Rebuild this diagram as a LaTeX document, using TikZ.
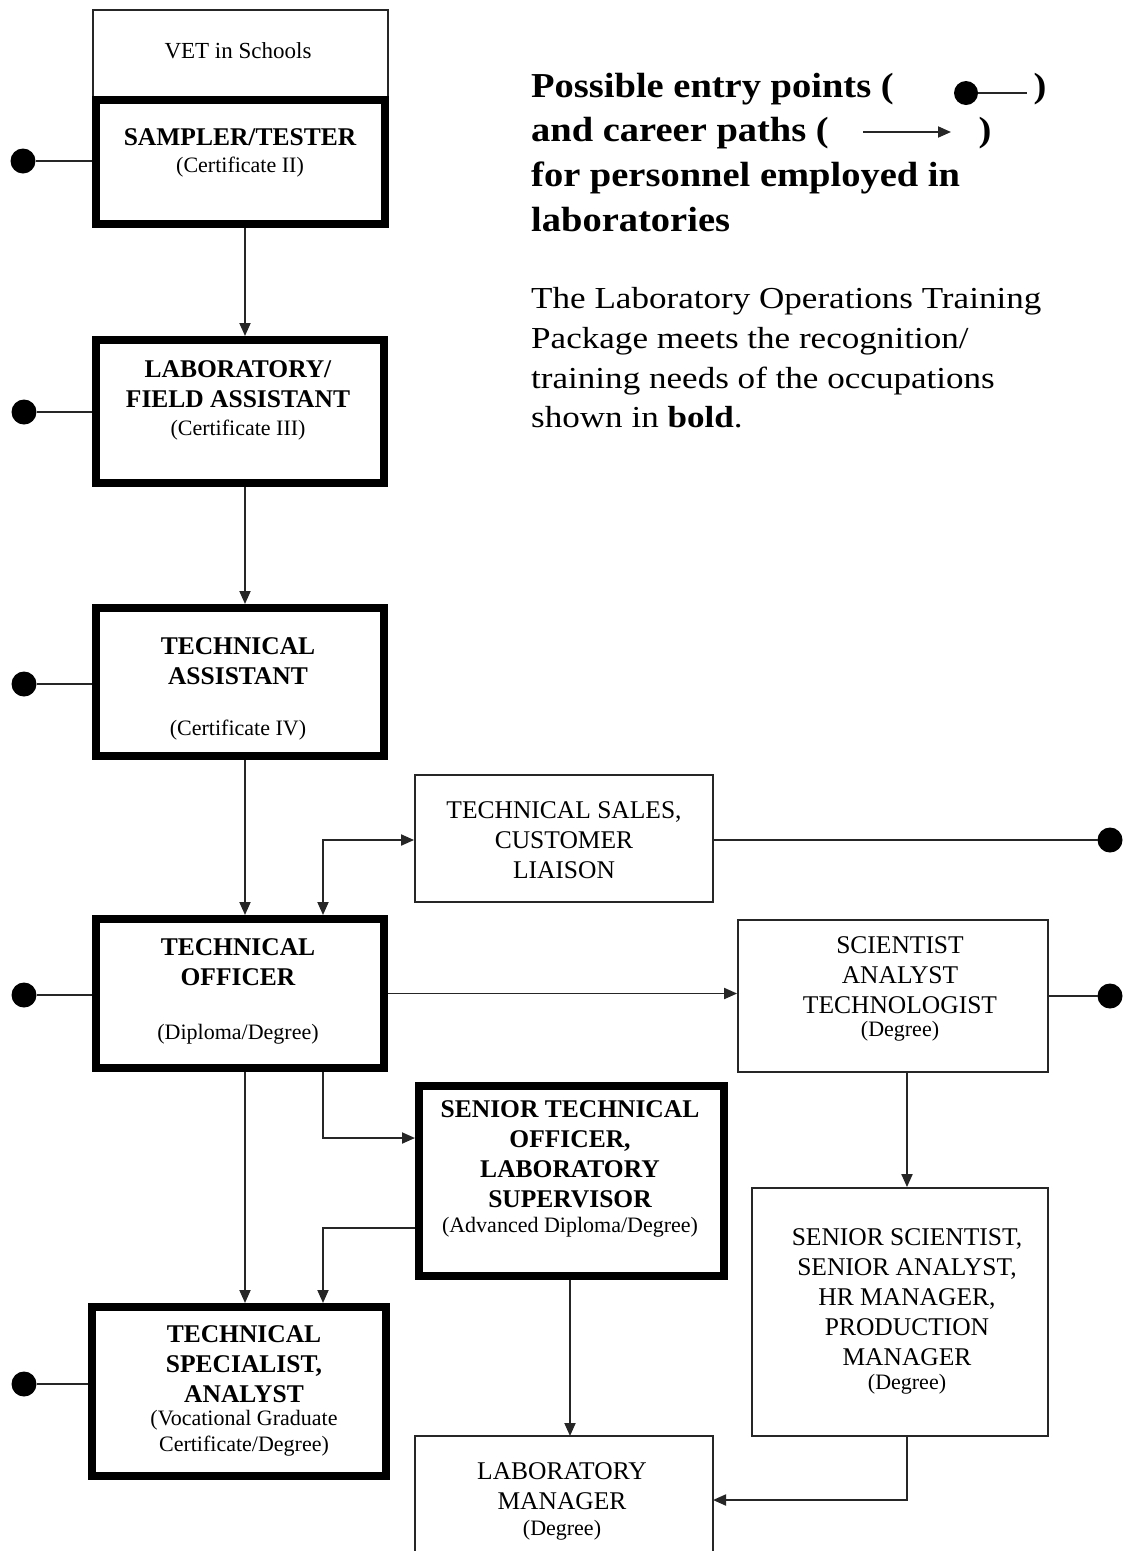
\documentclass[tikz,border=0pt]{standalone}
\usepackage{fontspec}
\setmainfont{Liberation Serif}
\newfontfamily\titlefont[FakeStretch=1.1]{Liberation Serif}
\newfontfamily\parafont[FakeStretch=1.15]{Liberation Serif}
\usetikzlibrary{arrows.meta}
\begin{document}
\begin{tikzpicture}[x=1pt,y=-1pt,
  thinbox/.style={draw=black!85,line width=1.8pt,rectangle,inner sep=0pt},
  thickbox/.style={draw=black,line width=8pt,rectangle,inner sep=0pt},
  entry/.style={circle,fill=black,minimum size=25pt,inner sep=0pt,outer sep=0pt},
  conn/.style={draw=black!85,line width=1.9pt},
  arr/.style={conn,-{Triangle[length=13pt,width=11pt]}},
  darr/.style={conn,{Triangle[length=13pt,width=11pt]}-{Triangle[length=13pt,width=11pt]}},
  head/.style={font=\bfseries\fontsize{25.5}{30}\selectfont,align=center,inner sep=0pt},
  plain/.style={font=\fontsize{25.5}{30}\selectfont,align=center,inner sep=0pt},
  qual/.style={font=\fontsize{22}{26}\selectfont,align=center,inner sep=0pt},
  ttl/.style={font=\titlefont\bfseries\fontsize{35}{44}\selectfont,anchor=base west,inner sep=0pt},
  para/.style={font=\parafont\fontsize{30.5}{40}\selectfont,anchor=base west,inner sep=0pt}]

\path[use as bounding box,fill=white] (0,0) rectangle (1124,1551);

% helper coordinates
\coordinate (c245) at (245,0);
\coordinate (c323) at (323,0);
\coordinate (c570) at (570,0);
\coordinate (c907) at (907,0);
\coordinate (y840) at (0,840);
\coordinate (y1138) at (0,1138);
\coordinate (y1228) at (0,1228);
\coordinate (y1500) at (0,1500);

% boxes
\node[thinbox,minimum width=295pt,minimum height=90pt] (vet) at (240.5,55) {};
\node[thickbox,minimum width=289pt,minimum height=124pt] (sampler) at (240.5,162) {};
\node[thickbox,minimum width=288pt,minimum height=143pt] (lab) at (240,411.5) {};
\node[thickbox,minimum width=288pt,minimum height=148pt] (ta) at (240,682) {};
\node[thinbox,minimum width=298pt,minimum height=127pt] (sales) at (564,838.5) {};
\node[thickbox,minimum width=288pt,minimum height=149pt] (to) at (240,993.5) {};
\node[thinbox,minimum width=310pt,minimum height=152pt] (sci) at (893,996) {};
\node[thickbox,minimum width=305pt,minimum height=190pt] (sto) at (571.5,1181) {};
\node[thickbox,minimum width=294pt,minimum height=169pt] (ts) at (239,1391.5) {};
\node[thinbox,minimum width=296pt,minimum height=248pt] (ss) at (900,1312) {};
\node[rectangle,inner sep=0pt,outer sep=0pt,minimum width=298pt,minimum height=119pt] (lm) at (564,1495.5) {};
\draw[draw=black!85,line width=1.8pt] (lm.south west) -- (lm.north west) -- (lm.north east) -- (lm.south east);

% texts in boxes
\node[font=\fontsize{23}{27}\selectfont,inner sep=0pt] (vetText) at (238,51) {VET in Schools};
\node[head] (samplerHead) at (240,137) {SAMPLER/TESTER};
\node[qual] (samplerQual) at (240,167) {(Certificate II)};
\node[head] (labHead) at (238,384) {LABORATORY/\\FIELD ASSISTANT};
\node[qual] (labQual) at (238,430) {(Certificate III)};
\node[head] (taHead) at (238,661) {TECHNICAL\\ASSISTANT};
\node[qual] (taQual) at (238,730) {(Certificate IV)};
\node[plain] (salesText) at (564,840) {TECHNICAL SALES,\\CUSTOMER\\LIAISON};
\node[head] (toHead) at (238,962) {TECHNICAL\\OFFICER};
\node[qual] (toQual) at (238,1034) {(Diploma/Degree)};
\node[plain] (sciHead) at (900,975) {SCIENTIST\\ANALYST\\TECHNOLOGIST};
\node[qual] (sciQual) at (900,1031) {(Degree)};
\node[head] (stoHead) at (570,1154) {SENIOR TECHNICAL\\OFFICER,\\LABORATORY\\SUPERVISOR};
\node[qual] (stoQual) at (570,1227) {(Advanced Diploma/Degree)};
\node[head] (tsHead) at (244,1364) {TECHNICAL\\SPECIALIST,\\ANALYST};
\node[qual] (tsQual) at (244,1433) {(Vocational Graduate\\Certificate/Degree)};
\node[plain] (ssHead) at (907,1297) {SENIOR SCIENTIST,\\SENIOR ANALYST,\\HR MANAGER,\\PRODUCTION\\MANAGER};
\node[qual] (ssQual) at (907,1384) {(Degree)};
\node[plain] (lmHead) at (562,1486) {LABORATORY\\MANAGER};
\node[qual] (lmQual) at (562,1530) {(Degree)};

% entry points
\node[entry] (eSampler) at (23,161) {};
\node[entry] (eLab) at (24,412) {};
\node[entry] (eTa) at (24,684) {};
\node[entry] (eTo) at (24,995) {};
\node[entry] (eTs) at (24,1384) {};
\node[entry] (eSales) at (1110,840) {};
\node[entry] (eSci) at (1110,996) {};
\draw[conn] (eSampler) -- (eSampler -| sampler.west);
\draw[conn] (eLab) -- (eLab -| lab.west);
\draw[conn] (eTa) -- (eTa -| ta.west);
\draw[conn] (eTo) -- (eTo -| to.west);
\draw[conn] (eTs) -- (eTs -| ts.west);
\draw[conn] (sales.east |- y840) -- (eSales);
\draw[conn] (sci.east |- eSci) -- (eSci);

% career paths
\draw[arr] (sampler.south -| c245) -- (lab.north -| c245);
\draw[arr] (lab.south -| c245) -- (ta.north -| c245);
\draw[arr] (ta.south -| c245) -- (to.north -| c245);
\draw[darr] (sales.west |- y840) -| (to.north -| c323);
\draw[arr] (to.east) -- (to.east -| sci.west);
\draw[arr] (sci.south -| c907) -- (ss.north -| c907);
\draw[arr] (ss.south -| c907) |- (lm.east |- y1500);
\draw[arr] (to.south -| c323) |- (sto.west |- y1138);
\draw[arr] (sto.west |- y1228) -| (ts.north -| c323);
\draw[arr] (to.south -| c245) -- (ts.north -| c245);
\draw[arr] (sto.south -| c570) -- (lm.north -| c570);

% title and legend
\node[ttl] (t1) at (531,97) {Possible entry points (};
\node[ttl] (t2) at (531,141) {and career paths (};
\node[ttl] (t3) at (531,186) {for personnel employed in};
\node[ttl] (t4) at (531,231) {laboratories};
\node[ttl,anchor=base] (t1c) at (1040,97) {)};
\node[ttl,anchor=base] (t2c) at (985,141) {)};
\node[entry,minimum size=24pt] (legDot) at (966,93) {};
\coordinate (legDotEnd) at (1027,93);
\draw[conn] (legDot) -- (legDotEnd);
\coordinate (legArrS) at (863,132);
\coordinate (legArrE) at (951,132);
\draw[arr] (legArrS) -- (legArrE);

% paragraph
\node[para] (p1) at (531,308) {The Laboratory Operations Training};
\node[para] (p2) at (531,348) {Package meets the recognition/};
\node[para] (p3) at (531,388) {training needs of the occupations};
\node[para] (p4) at (531,427) {shown in \textbf{bold}.};
\end{tikzpicture}
\end{document}
